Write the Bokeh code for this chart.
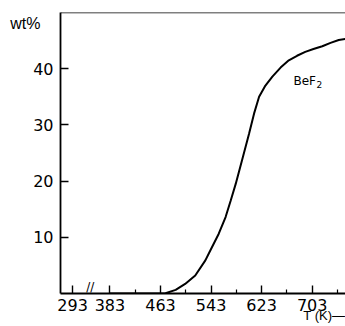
from bokeh.plotting import figure
from bokeh.models import FixedTicker, Span, Label, Range1d, LinearAxis
from bokeh.embed import file_html
from bokeh.resources import INLINE

# Data (temperature in K, BeF2 content in wt%)
T_K = [383, 423, 463, 471, 487, 502, 518, 534, 542, 555, 566, 574, 582, 592, 603, 611,
       619, 629, 640, 653, 666, 679, 692, 705, 719, 732, 745, 756]
wt_pct = [0, 0, 0, 0.05, 0.65, 1.7, 3.2, 5.9, 7.7, 10.6, 13.6, 16.5, 19.5, 23.7, 28.4, 32.0,
          35.0, 37.0, 38.6, 40.2, 41.5, 42.3, 43.0, 43.5, 44.0, 44.6, 45.1, 45.3]

# Axis ticks (293 K sits left of an axis break, drawn at a compressed position)
x_major = [324, 383, 463, 543, 623, 703, 783]
x_minor = [423, 503, 583, 663, 743]
x_overrides = {324: "293"}
y_major = [10, 20, 30, 40]
break_pos = 352

# axis titles, placed as single-tick labels
y_title_pos = 48
y_title = "wt%"
x_title_pos = 723
x_title = "T (K)\u2014"

FONT = "DejaVu Sans"
FONT2 = "Liberation Sans"

p = figure(width=345, height=326, output_backend="svg", toolbar_location=None,
           x_range=Range1d(304.8, 755.7), y_range=Range1d(0, 50),
           min_border_left=60, min_border_right=0, min_border_top=12, min_border_bottom=33)
p.outline_line_color = None
p.xgrid.visible = False
p.ygrid.visible = False
p.background_fill_color = "white"
p.border_fill_color = "white"

for ax in (p.xaxis[0], p.yaxis[0]):
    ax.axis_line_width = 1.8
    ax.axis_line_color = "black"
    ax.major_tick_line_width = 1.4
    ax.minor_tick_line_width = 1.2
    ax.major_tick_line_color = "black"
    ax.minor_tick_line_color = "black"
    ax.major_tick_in = 8
    ax.major_tick_out = 0
    ax.minor_tick_in = 4
    ax.minor_tick_out = 0
    ax.major_label_text_font = FONT
    ax.major_label_text_font_size = "16px"
    ax.major_label_text_color = "black"

p.xaxis.ticker = FixedTicker(ticks=x_major, minor_ticks=x_minor)
p.xaxis.major_label_overrides = x_overrides
p.xaxis.major_label_standoff = 5
p.yaxis.ticker = FixedTicker(ticks=y_major, minor_ticks=[])
p.yaxis.major_label_standoff = 7

# "wt%" as an extra left axis with a single label and no line/ticks
yt = LinearAxis(ticker=FixedTicker(ticks=[y_title_pos], minor_ticks=[]),
                major_label_overrides={y_title_pos: y_title},
                axis_line_color=None, major_tick_line_color=None, minor_tick_line_color=None,
                major_tick_in=0, major_tick_out=0, minor_tick_in=0, minor_tick_out=0,
                major_label_standoff=-10, major_label_text_font=FONT2,
                major_label_text_font_size="16px", major_label_text_color="black")
p.add_layout(yt, "left")

# "T (K)—" as an extra bottom axis
xt = LinearAxis(ticker=FixedTicker(ticks=[x_title_pos], minor_ticks=[]),
                major_label_overrides={x_title_pos: x_title},
                axis_line_color=None, major_tick_line_color=None, minor_tick_line_color=None,
                major_tick_in=0, major_tick_out=0, minor_tick_in=0, minor_tick_out=0,
                major_label_standoff=-6, major_label_text_font=FONT2,
                major_label_text_font_size="13px", major_label_text_color="black")
p.add_layout(xt, "below")

# top frame line
p.add_layout(Span(location=50, dimension="width", line_color="black", line_width=1.5))

p.line(T_K, wt_pct, line_color="black", line_width=2)

# axis break mark
p.add_layout(Label(x=break_pos, y=0, text="//", text_font=FONT, text_font_size="12px",
                   text_align="center", text_baseline="bottom", text_color="black"))

# curve label
p.add_layout(Label(x=673.4, y=37.9, text="BeF", text_font=FONT, text_font_size="12px",
                   text_align="left", text_baseline="alphabetic", text_color="black"))
p.add_layout(Label(x=710.0, y=37.1, text="2", text_font=FONT, text_font_size="9px",
                   text_align="left", text_baseline="alphabetic", text_color="black"))

open("out.html", "w").write(file_html(p, INLINE))
